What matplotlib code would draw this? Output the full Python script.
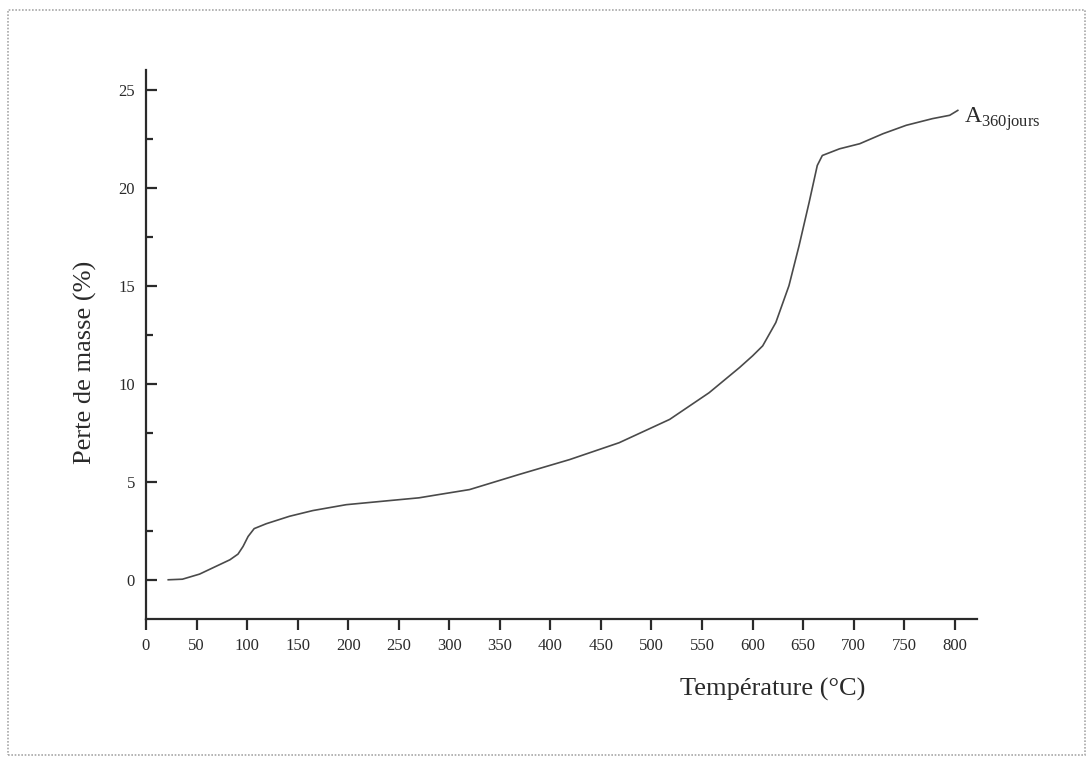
import matplotlib
matplotlib.use("Agg")
import matplotlib.pyplot as plt
from matplotlib.patches import Rectangle
from matplotlib.ticker import MultipleLocator

plt.rcParams['font.family'] = ['Liberation Serif', 'DejaVu Serif']
plt.rcParams['mathtext.fontset'] = 'custom'
plt.rcParams['mathtext.rm'] = 'Liberation Serif'

# Courbe ATG : température (°C) et perte de masse (%)
temperature = [22, 36, 53, 69, 83, 91, 96, 101, 107, 119, 142, 165, 198, 241,
               270, 290, 320, 369, 419, 468, 518, 557, 587, 600, 610, 623,
               636, 646, 656, 664, 669, 686, 706, 729, 752, 778, 795, 803]
perte_masse = [0.0, 0.03, 0.29, 0.68, 1.02, 1.31, 1.70, 2.21, 2.61, 2.86,
               3.24, 3.53, 3.83, 4.04, 4.18, 4.35, 4.60, 5.37, 6.13, 6.99,
               8.18, 9.54, 10.82, 11.42, 11.93, 13.12, 15.0, 17.04, 19.26,
               21.13, 21.64, 21.98, 22.24, 22.75, 23.18, 23.52, 23.69, 23.94]

x_ticks = list(range(0, 801, 50))
y_ticks = [0, 5, 10, 15, 20, 25]

fig = plt.figure(figsize=(10.89, 7.62), dpi=100)
ax = fig.add_axes([146 / 1089, 1 - 619 / 762, 831 / 1089, 549 / 762])

ax.plot(temperature, perte_masse, color='#4a4a4a', linewidth=1.2,
        solid_joinstyle='round')

ax.set_xlim(0, 822)
ax.set_ylim(-2, 26)
ax.set_xticks(x_ticks)
ax.set_xticklabels([str(t) for t in x_ticks])
ax.set_yticks(y_ticks)
ax.yaxis.set_minor_locator(MultipleLocator(2.5))

for side in ['top', 'right']:
    ax.spines[side].set_visible(False)
for side in ['left', 'bottom']:
    ax.spines[side].set_linewidth(1.6)
    ax.spines[side].set_color('#2a2a2a')

ax.tick_params(axis='y', which='major', direction='in', length=8, width=1.6,
               pad=8, labelsize=12, colors='#2a2a2a')
ax.tick_params(axis='y', which='minor', direction='in', length=5, width=1.6,
               colors='#2a2a2a')
ax.tick_params(axis='x', which='major', direction='out', length=8, width=1.6,
               pad=6, labelsize=12, colors='#2a2a2a')

ax.text(0.754, -0.129, 'Température (°C)', transform=ax.transAxes,
        ha='center', va='center', fontsize=19, color='#2a2a2a')
ax.text(-0.073, 0.468, 'Perte de masse (%)', transform=ax.transAxes,
        ha='center', va='center', rotation=90, fontsize=19, color='#2a2a2a')

ax.text(809, 23.5, r'$\mathrm{A}_{\mathrm{360jours}}$', ha='left', va='center',
        fontsize=17, color='#2a2a2a')

# cadre pointillé autour de la figure
fig.patches.append(Rectangle((8 / 1089, 1 - 755 / 762), 1077 / 1089, 745 / 762,
                             transform=fig.transFigure, fill=False,
                             edgecolor='#a8a8a8', linewidth=1.2,
                             linestyle=(0, (1, 1))))

fig.savefig('out.png', dpi=100)
